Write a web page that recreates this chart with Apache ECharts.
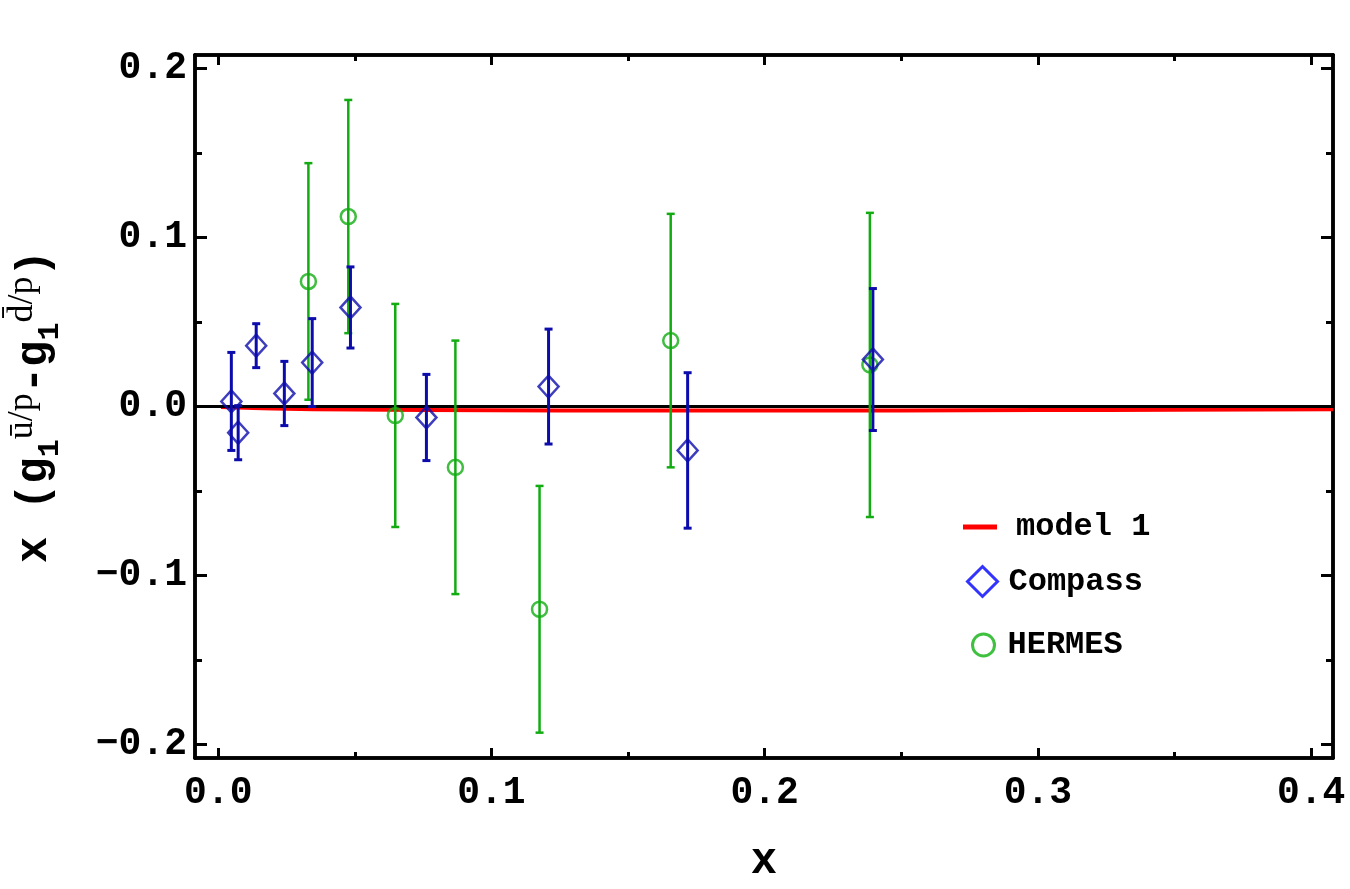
<!DOCTYPE html>
<html>
<head>
<meta charset="utf-8">
<script src="https://cdn.jsdelivr.net/npm/echarts@6/dist/echarts.min.js"></script>
<style>
  html, body { margin: 0; padding: 0; background: #fff; }
  #chart { width: 1350px; height: 889px; }
</style>
</head>
<body>
<div id="chart"></div>
<script>
// data
const compassX = [0.0048, 0.0073, 0.0139, 0.0242, 0.0344, 0.0484, 0.0762, 0.1209, 0.1718, 0.2396];
const compassY = [0.003, -0.0155, 0.036, 0.0077, 0.026, 0.0586, -0.0065, 0.0118, -0.026, 0.0278];
const compassErr = [0.029, 0.016, 0.013, 0.019, 0.026, 0.024, 0.0255, 0.034, 0.046, 0.042];

const hermesX = [0.033, 0.0476, 0.0648, 0.0868, 0.1176, 0.1656, 0.2385];
const hermesY = [0.074, 0.1124, -0.0053, -0.036, -0.120, 0.039, 0.0246];
const hermesErr = [0.070, 0.069, 0.066, 0.075, 0.073, 0.075, 0.090];

const modelX = [0.001, 0.01, 0.02, 0.05, 0.1, 0.15, 0.2, 0.25, 0.3, 0.35, 0.408];
const modelY = [-0.0003, -0.0008, -0.0012, -0.0018, -0.0022, -0.0024, -0.0024, -0.0023, -0.0021, -0.0019, -0.0017];

const xTicks = [0, 0.1, 0.2, 0.3, 0.4];
const xMinorTicks = [0.05, 0.15, 0.25, 0.35];
const yTicks = [-0.2, -0.1, 0, 0.1, 0.2];
const yMinorTicks = [-0.15, -0.05, 0.05, 0.15];

const X_MIN = -0.0085, X_MAX = 0.408;
const Y_MIN = -0.208, Y_MAX = 0.208;

const compassColor = '#0c0cac';
const hermesColor = '#12ac12';
const mono = '"Liberation Mono", "DejaVu Sans Mono", monospace';

const zip3 = (a, b, c) => a.map((v, i) => [v, b[i], c[i]]);
const zip2 = (a, b) => a.map((v, i) => [v, b[i]]);

function errorBars(color, width) {
  return function (params, api) {
    const x = api.value(0), y = api.value(1), e = api.value(2);
    const top = api.coord([x, y + e]);
    const bot = api.coord([x, y - e]);
    const cap = 4;
    const style = { stroke: color, lineWidth: width };
    return {
      type: 'group',
      children: [
        { type: 'line', shape: { x1: top[0], y1: top[1], x2: bot[0], y2: bot[1] }, style },
        { type: 'line', shape: { x1: top[0] - cap, y1: top[1], x2: top[0] + cap, y2: top[1] }, style },
        { type: 'line', shape: { x1: bot[0] - cap, y1: bot[1], x2: bot[0] + cap, y2: bot[1] }, style },
      ],
    };
  };
}

const fmt = (v) => (v < 0 ? '\u2212' : '') + Math.abs(v).toFixed(1);

function xAxisDef(position, ticks, len, labels) {
  return {
    type: 'value', position, min: X_MIN, max: X_MAX,
    axisLine: { show: true, onZero: false, lineStyle: { color: '#000', width: 3.5 } },
    splitLine: { show: false },
    axisTick: { show: true, inside: true, length: len, customValues: ticks, lineStyle: { color: '#000', width: 3 } },
    axisLabel: labels
      ? { show: true, customValues: ticks, formatter: fmt, margin: 16, fontFamily: mono, fontWeight: 'bold', fontSize: 38, color: '#000' }
      : { show: false },
  };
}

function yAxisDef(position, ticks, len, labels) {
  return {
    type: 'value', position, min: Y_MIN, max: Y_MAX,
    axisLine: { show: true, onZero: false, lineStyle: { color: '#000', width: 3.5 } },
    splitLine: { show: false },
    axisTick: { show: true, inside: true, length: len, customValues: ticks, lineStyle: { color: '#000', width: 3 } },
    axisLabel: labels
      ? { show: true, customValues: ticks, formatter: fmt, margin: 8, fontFamily: mono, fontWeight: 'bold', fontSize: 38, color: '#000' }
      : { show: false },
  };
}

const xMain = xAxisDef('bottom', xTicks, 10, true);
xMain.name = 'x';
xMain.nameLocation = 'middle';
xMain.nameGap = 82;
xMain.nameTextStyle = { fontFamily: mono, fontWeight: 'bold', fontSize: 44, color: '#000' };

const yMain = yAxisDef('left', yTicks, 12, true);
yMain.name = '{m|x (g}{sub|1}{sup|\u016B/p}{m|-g}{sub|1}{sup|d\u0304/p}{m|)}';
yMain.nameLocation = 'middle';
yMain.nameGap = 130;
yMain.nameTextStyle = {
  rich: {
    m: { fontFamily: mono, fontWeight: 'bold', fontSize: 44, color: '#000', lineHeight: 60, verticalAlign: 'middle' },
    sub: { fontFamily: mono, fontWeight: 'bold', fontSize: 30, color: '#000', lineHeight: 60, verticalAlign: 'bottom' },
    sup: { fontFamily: '"Liberation Serif", serif', fontSize: 36, color: '#000', lineHeight: 60, verticalAlign: 'top' },
  },
};

const legendText = { fontFamily: mono, fontSize: 32, fontWeight: 'bold', color: '#000' };

const option = {
  backgroundColor: '#fff',
  animation: false,
  grid: { left: 195, right: 17, top: 55, bottom: 131, containLabel: false, outerBoundsMode: 'none' },
  xAxis: [
    xMain,
    xAxisDef('bottom', xMinorTicks, 6, false),
    xAxisDef('top', xTicks, 10, false),
    xAxisDef('top', xMinorTicks, 6, false),
  ],
  yAxis: [
    yMain,
    yAxisDef('left', yMinorTicks, 7, false),
    yAxisDef('right', yTicks, 12, false),
    yAxisDef('right', yMinorTicks, 7, false),
  ],
  legend: [
    {
      left: 958, top: 506, itemWidth: 34, itemHeight: 5, itemGap: 10,
      textStyle: Object.assign({}, legendText, { padding: [0, 0, 0, 14] }),
      data: [{ name: 'model 1', icon: 'rect', itemStyle: { color: '#ff0000' } }],
    },
    {
      left: 961, top: 560, itemWidth: 30, itemHeight: 30,
      textStyle: Object.assign({}, legendText, { padding: [0, 0, 0, 6] }),
      data: [{ name: 'Compass', icon: 'diamond', itemStyle: { color: 'rgba(0,0,0,0)', borderColor: '#0000ff', borderWidth: 3 } }],
    },
    {
      left: 966, top: 624, itemWidth: 22, itemHeight: 22, itemGap: 10,
      textStyle: Object.assign({}, legendText, { padding: [0, 0, 0, 8] }),
      data: [{ name: 'HERMES', icon: 'circle', itemStyle: { color: 'rgba(0,0,0,0)', borderColor: '#10b010', borderWidth: 3 } }],
    },
  ],
  series: [
    {
      name: 'model 1', type: 'line', z: 2, symbol: 'none', smooth: true,
      lineStyle: { color: '#ff0000', width: 4 },
      itemStyle: { color: '#ff0000' },
      data: zip2(modelX, modelY),
      markLine: {
        silent: true, symbol: 'none', label: { show: false }, z: 3,
        lineStyle: { color: '#000', width: 3, type: 'solid' },
        data: [{ yAxis: 0 }],
      },
    },
    {
      name: 'HERMES err', type: 'custom', z: 4,
      renderItem: errorBars(hermesColor, 2.5),
      encode: { x: 0, y: [1, 2] },
      data: zip3(hermesX, hermesY, hermesErr),
    },
    {
      name: 'HERMES', type: 'scatter', z: 5, symbol: 'circle', symbolSize: 15,
      itemStyle: { color: 'rgba(0,0,0,0)', borderColor: hermesColor, borderWidth: 2.5 },
      data: zip2(hermesX, hermesY),
    },
    {
      name: 'Compass err', type: 'custom', z: 6,
      renderItem: errorBars(compassColor, 3),
      encode: { x: 0, y: [1, 2] },
      data: zip3(compassX, compassY, compassErr),
    },
    {
      name: 'Compass', type: 'scatter', z: 7, symbol: 'diamond', symbolSize: [20, 22],
      itemStyle: { color: 'rgba(0,0,0,0)', borderColor: compassColor, borderWidth: 2.5 },
      data: zip2(compassX, compassY),
    },
  ],
};

const chart = echarts.init(document.getElementById('chart'));
chart.setOption(option);
</script>
</body>
</html>
